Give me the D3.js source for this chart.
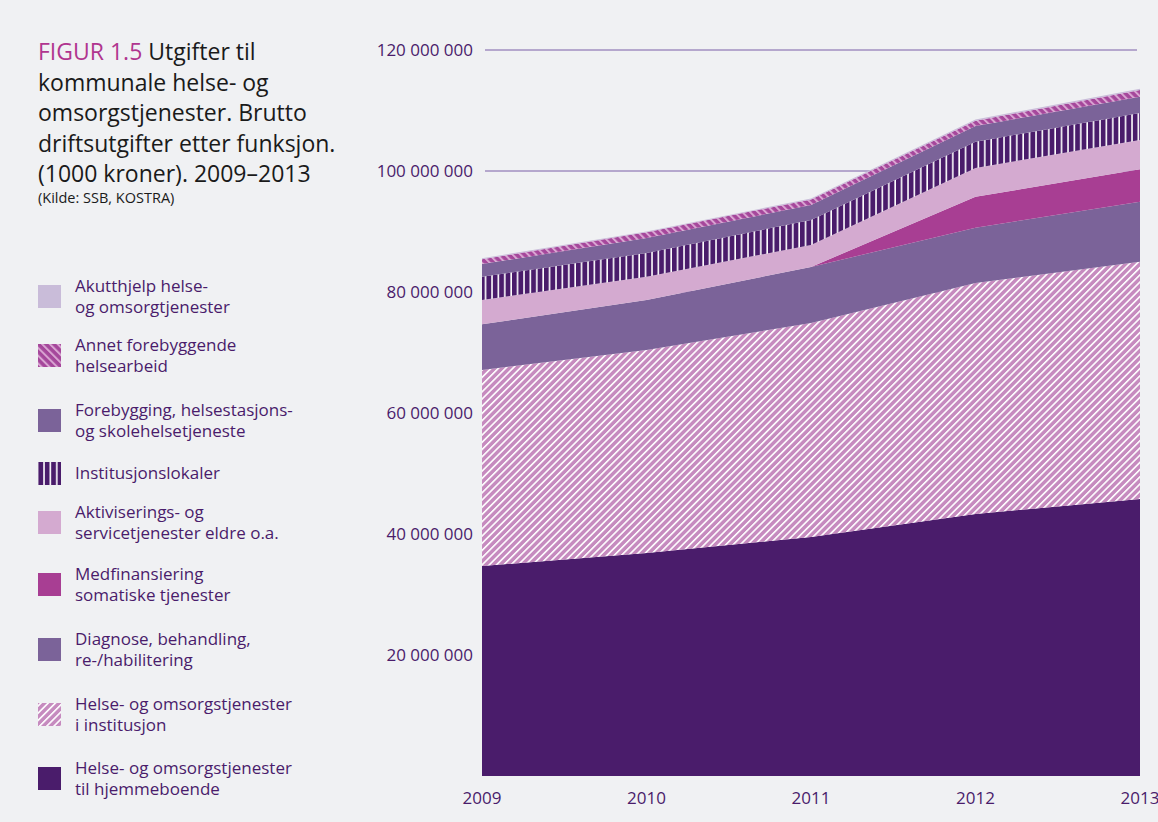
<!DOCTYPE html>
<html lang="no">
<head>
<meta charset="utf-8">
<script src="https://cdn.jsdelivr.net/npm/d3@7"></script>
<style>
  html, body { margin: 0; padding: 0; background: #f0f1f3; }
  svg { display: block; }
  text { font-family: "Open Sans", "Noto Sans", sans-serif; }
</style>
</head>
<body>
<svg id="chart" width="1158" height="822"></svg>
<script>
// Brutto driftsutgifter (1000 kroner) per funksjon, 2009–2013
const years = [2009, 2010, 2011, 2012, 2013];

const hjemmeboende       = [34710000, 36860000, 39500000, 43310000, 45790000];
const institusjon        = [32400000, 33550000, 35380000, 38180000, 39220000];
const diagnose           = [ 7550000,  8270000,  9250000,  9140000,  9920000];
const medfinansiering    = [       0,        0,        0,  5120000,  5350000];
const aktivisering       = [ 4020000,  3850000,  3640000,  4750000,  4840000];
const institusjonslokaler= [ 3850000,  3920000,  4130000,  4340000,  4470000];
const forebygging        = [ 2100000,  2480000,  2480000,  2600000,  2690000];
const annetForebyggende  = [  780000,   940000,   910000,   870000,  1110000];
const akutthjelp         = [  150000,   150000,   150000,   200000,   200000];

const yTicks = [20000000, 40000000, 60000000, 80000000, 100000000, 120000000];

// Series, bottom of the stack first
const series = [
  { key: "hjem",  values: hjemmeboende,        fill: "#4a1c6b",           label: ["Helse- og omsorgstjenester", "til hjemmeboende"] },
  { key: "inst",  values: institusjon,         fill: "url(#hatchInst)",   label: ["Helse- og omsorgstjenester", "i institusjon"] },
  { key: "diag",  values: diagnose,            fill: "#7b6399",           label: ["Diagnose, behandling,", "re-/habilitering"] },
  { key: "med",   values: medfinansiering,     fill: "#a83e93",           label: ["Medfinansiering", "somatiske tjenester"] },
  { key: "akt",   values: aktivisering,        fill: "#d4aad0",           label: ["Aktiviserings- og", "servicetjenester eldre o.a."] },
  { key: "lok",   values: institusjonslokaler, fill: "url(#stripeLok)",   label: ["Institusjonslokaler"] },
  { key: "fore",  values: forebygging,         fill: "#7b6399",           label: ["Forebygging, helsestasjons-", "og skolehelsetjeneste"] },
  { key: "annet", values: annetForebyggende,   fill: "url(#hatchAnnet)",  label: ["Annet forebyggende", "helsearbeid"] },
  { key: "akutt", values: akutthjelp,          fill: "#c9bcd9",           label: ["Akutthjelp helse-", "og omsorgtjenester"] }
];

const svg = d3.select("#chart");
const defs = svg.append("defs");

// Diagonal white hatching on lilac
const pInst = defs.append("pattern").attr("id", "hatchInst")
  .attr("patternUnits", "userSpaceOnUse").attr("width", 5.1).attr("height", 10)
  .attr("patternTransform", "rotate(45)");
pInst.append("rect").attr("width", 5.1).attr("height", 10).attr("fill", "#c68bbf");
pInst.append("rect").attr("width", 1.6).attr("height", 10).attr("fill", "#ffffff");

// Back-slash hatching on magenta
const pAnnet = defs.append("pattern").attr("id", "hatchAnnet")
  .attr("patternUnits", "userSpaceOnUse").attr("width", 5.5).attr("height", 10)
  .attr("patternTransform", "rotate(-45)");
pAnnet.append("rect").attr("width", 5.5).attr("height", 10).attr("fill", "#a5479b");
pAnnet.append("rect").attr("width", 2).attr("height", 10).attr("fill", "#d9a5d2");

// Vertical white stripes on dark purple
const pLok = defs.append("pattern").attr("id", "stripeLok")
  .attr("patternUnits", "userSpaceOnUse").attr("width", 6.4).attr("height", 10);
pLok.append("rect").attr("width", 6.4).attr("height", 10).attr("fill", "#4a1c6b");
pLok.append("rect").attr("x", 4.8).attr("width", 1.6).attr("height", 10).attr("fill", "#ffffff");

// Scales
const x = d3.scaleLinear().domain([2009, 2013]).range([482, 1140]);
const y = d3.scaleLinear().domain([0, 120000000]).range([776, 50]);

// Grid lines
svg.append("g").selectAll("line").data(yTicks).join("line")
  .attr("x1", 485).attr("x2", 1137)
  .attr("y1", d => y(d)).attr("y2", d => y(d))
  .attr("stroke", "#7b5ea7").attr("stroke-width", 1);

// Stacked areas
const table = years.map((yr, i) => {
  const row = { year: yr };
  series.forEach(s => { row[s.key] = s.values[i]; });
  return row;
});
const stack = d3.stack().keys(series.map(s => s.key));
const stacked = stack(table);
const area = d3.area()
  .x(d => x(d.data.year))
  .y0(d => y(d[0]))
  .y1(d => y(d[1]));

svg.append("g").selectAll("path").data(stacked).join("path")
  .attr("d", area)
  .attr("fill", (d, i) => series[i].fill);

// Y axis labels
const fmt = v => d3.format(",")(v).replace(/,/g, " ");
svg.append("g").selectAll("text").data(yTicks).join("text")
  .attr("x", 473).attr("y", d => y(d))
  .attr("dy", "0.35em")
  .attr("text-anchor", "end")
  .attr("fill", "#4a1c6b")
  .attr("font-size", 17)
  .text(fmt);

// X axis labels
svg.append("g").selectAll("text").data(years).join("text")
  .attr("x", d => x(d)).attr("y", 798)
  .attr("dy", "0.35em")
  .attr("text-anchor", "middle")
  .attr("fill", "#4a1c6b")
  .attr("font-size", 17)
  .text(d => d);

// Title
const title = svg.append("g");
const titleLines = [
  [["FIGUR 1.5 ", "#b0358f"], ["Utgifter til", "#1a1a1a"]],
  [["kommunale helse- og", "#1a1a1a"]],
  [["omsorgstjenester. Brutto", "#1a1a1a"]],
  [["driftsutgifter etter funksjon.", "#1a1a1a"]],
  [["(1000 kroner). 2009–2013", "#1a1a1a"]]
];
titleLines.forEach((parts, i) => {
  const t = title.append("text").attr("x", 38).attr("y", 60 + i * 30.5)
    .attr("font-size", 23);
  parts.forEach(p => t.append("tspan").attr("fill", p[1]).text(p[0]));
});
title.append("text").attr("x", 38).attr("y", 203)
  .attr("font-size", 14.5).attr("fill", "#1a1a1a")
  .text("(Kilde: SSB, KOSTRA)");

// Legend, top of the stack first
const legendItems = series.slice().reverse();
const swatchTops = [285, 344, 409, 462, 511, 573, 638, 703, 767];
const legend = svg.append("g");
legendItems.forEach((s, i) => {
  const top = swatchTops[i];
  legend.append("rect").attr("x", 38).attr("y", top).attr("width", 23).attr("height", 23)
    .attr("fill", s.fill);
  const n = s.label.length;
  const mid = top + 11.5;
  s.label.forEach((line, j) => {
    legend.append("text")
      .attr("x", 75)
      .attr("y", mid + (j - (n - 1) / 2) * 21)
      .attr("dy", "0.35em")
      .attr("fill", "#4a1c6b")
      .attr("font-size", 17)
      .text(line);
  });
});
</script>
</body>
</html>
